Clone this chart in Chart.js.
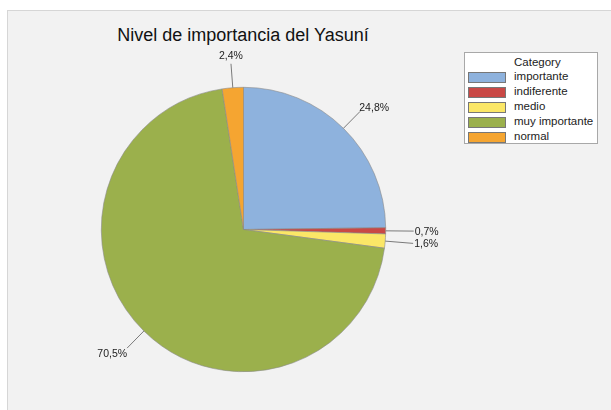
<!DOCTYPE html>
<html>
<head>
<meta charset="utf-8">
<script src="https://cdn.jsdelivr.net/npm/chart.js@4"></script>
<style>
  body { margin: 0; background: #fff; font-family: "Liberation Sans", Arial, sans-serif; }
  #wrap { position: relative; width: 611px; height: 410px; overflow: hidden; }
  #panel { position: absolute; left: 7px; top: 10px; width: 604px; height: 400px;
           background: #f2f2f2; border-left: 1px solid #d6d6d6; border-top: 1px solid #d6d6d6; }
  #title { position: absolute; left: 0; width: 486px; top: 25px; text-align: center;
           font-size: 18px; color: #111; }
  canvas { position: absolute; left: 0; top: 0; }
  #legend { position: absolute; left: 464px; top: 52px; width: 134px; height: 92px;
            background: #fff; border: 1px solid #a8a8a8; box-sizing: border-box; font-size: 11.5px; color: #222; }
  #legend .head { position: absolute; left: 49px; top: 3px; }
  #legend .row { position: absolute; left: 3px; height: 15px; }
  #legend .sw { position: absolute; left: 0; top: 1px; width: 38px; height: 11px; border: 1px solid #777; box-sizing: border-box; }
  #legend .lb { position: absolute; left: 46px; top: -1px; white-space: nowrap; }
</style>
</head>
<body>
<div id="wrap">
  <div id="panel"></div>
  <div id="title">Nivel de importancia del Yasuní</div>
  <canvas id="pieChart" width="611" height="410"></canvas>
  <div id="legend"><div class="head">Category</div></div>
</div>
<script>
// Data
const categories = ['importante', 'indiferente', 'medio', 'muy importante', 'normal'];
const percentages = [24.8, 0.7, 1.6, 70.5, 2.4];
const sliceColors = ['#8eb2dd', '#c94845', '#fbe767', '#9bb04c', '#f5a531'];

// Legend
const legend = document.getElementById('legend');
categories.forEach((name, i) => {
    const row = document.createElement('div');
    row.className = 'row';
    row.style.top = (18 + i * 15) + 'px';
    row.innerHTML = '<div class="sw" style="background:' + sliceColors[i] + '"></div><div class="lb">' + name + '</div>';
    legend.appendChild(row);
});

// Labels with leader lines
const leaderLabels = {
    id: 'leaderLabels',
    afterDatasetsDraw(chart) {
        const ctx = chart.ctx;
        const arcs = chart.getDatasetMeta(0).data;
        ctx.save();
        ctx.font = '10.5px "Liberation Sans", Arial, sans-serif';
        ctx.fillStyle = '#222';
        ctx.strokeStyle = '#7a7a7a';
        ctx.lineWidth = 1;
        arcs.forEach((arc, i) => {
            const mid = (arc.startAngle + arc.endAngle) / 2;
            const r = arc.outerRadius;
            const side = Math.abs(Math.cos(mid)) > 0.95;
            const len = side ? 28 : 24;
            const x1 = arc.x + Math.cos(mid) * r;
            const y1 = arc.y + Math.sin(mid) * r;
            const x2 = arc.x + Math.cos(mid) * (r + len);
            const y2 = arc.y + Math.sin(mid) * (r + len);
            ctx.beginPath();
            ctx.moveTo(x1, y1);
            ctx.lineTo(x2, y2);
            ctx.stroke();
            const text = percentages[i].toFixed(1).replace('.', ',') + '%';
            if (Math.sin(mid) < -0.95) {
                ctx.textAlign = 'center';
                ctx.textBaseline = 'bottom';
                ctx.fillText(text, x2, y2 - 2);
            } else if (Math.cos(mid) >= 0) {
                ctx.textAlign = 'left';
                ctx.textBaseline = 'middle';
                ctx.fillText(text, side ? x2 + 1 : x2 - 1, side ? y2 + 1 : y2 - 3);
            } else {
                ctx.textAlign = 'right';
                ctx.textBaseline = 'middle';
                ctx.fillText(text, x2, y2 + 6);
            }
        });
        ctx.restore();
    }
};

const pieCtx = document.getElementById('pieChart').getContext('2d');
new Chart(pieCtx, {
    type: 'pie',
    data: {
        labels: categories,
        datasets: [{
            data: percentages,
            backgroundColor: sliceColors,
            borderColor: '#8a8a8a',
            borderWidth: 0.6
        }]
    },
    options: {
        responsive: false,
        animation: false,
        layout: { padding: { left: 101, right: 225, top: 87, bottom: 38 } },
        plugins: {
            legend: { display: false },
            tooltip: { enabled: false }
        }
    },
    plugins: [leaderLabels]
});
</script>
</body>
</html>
